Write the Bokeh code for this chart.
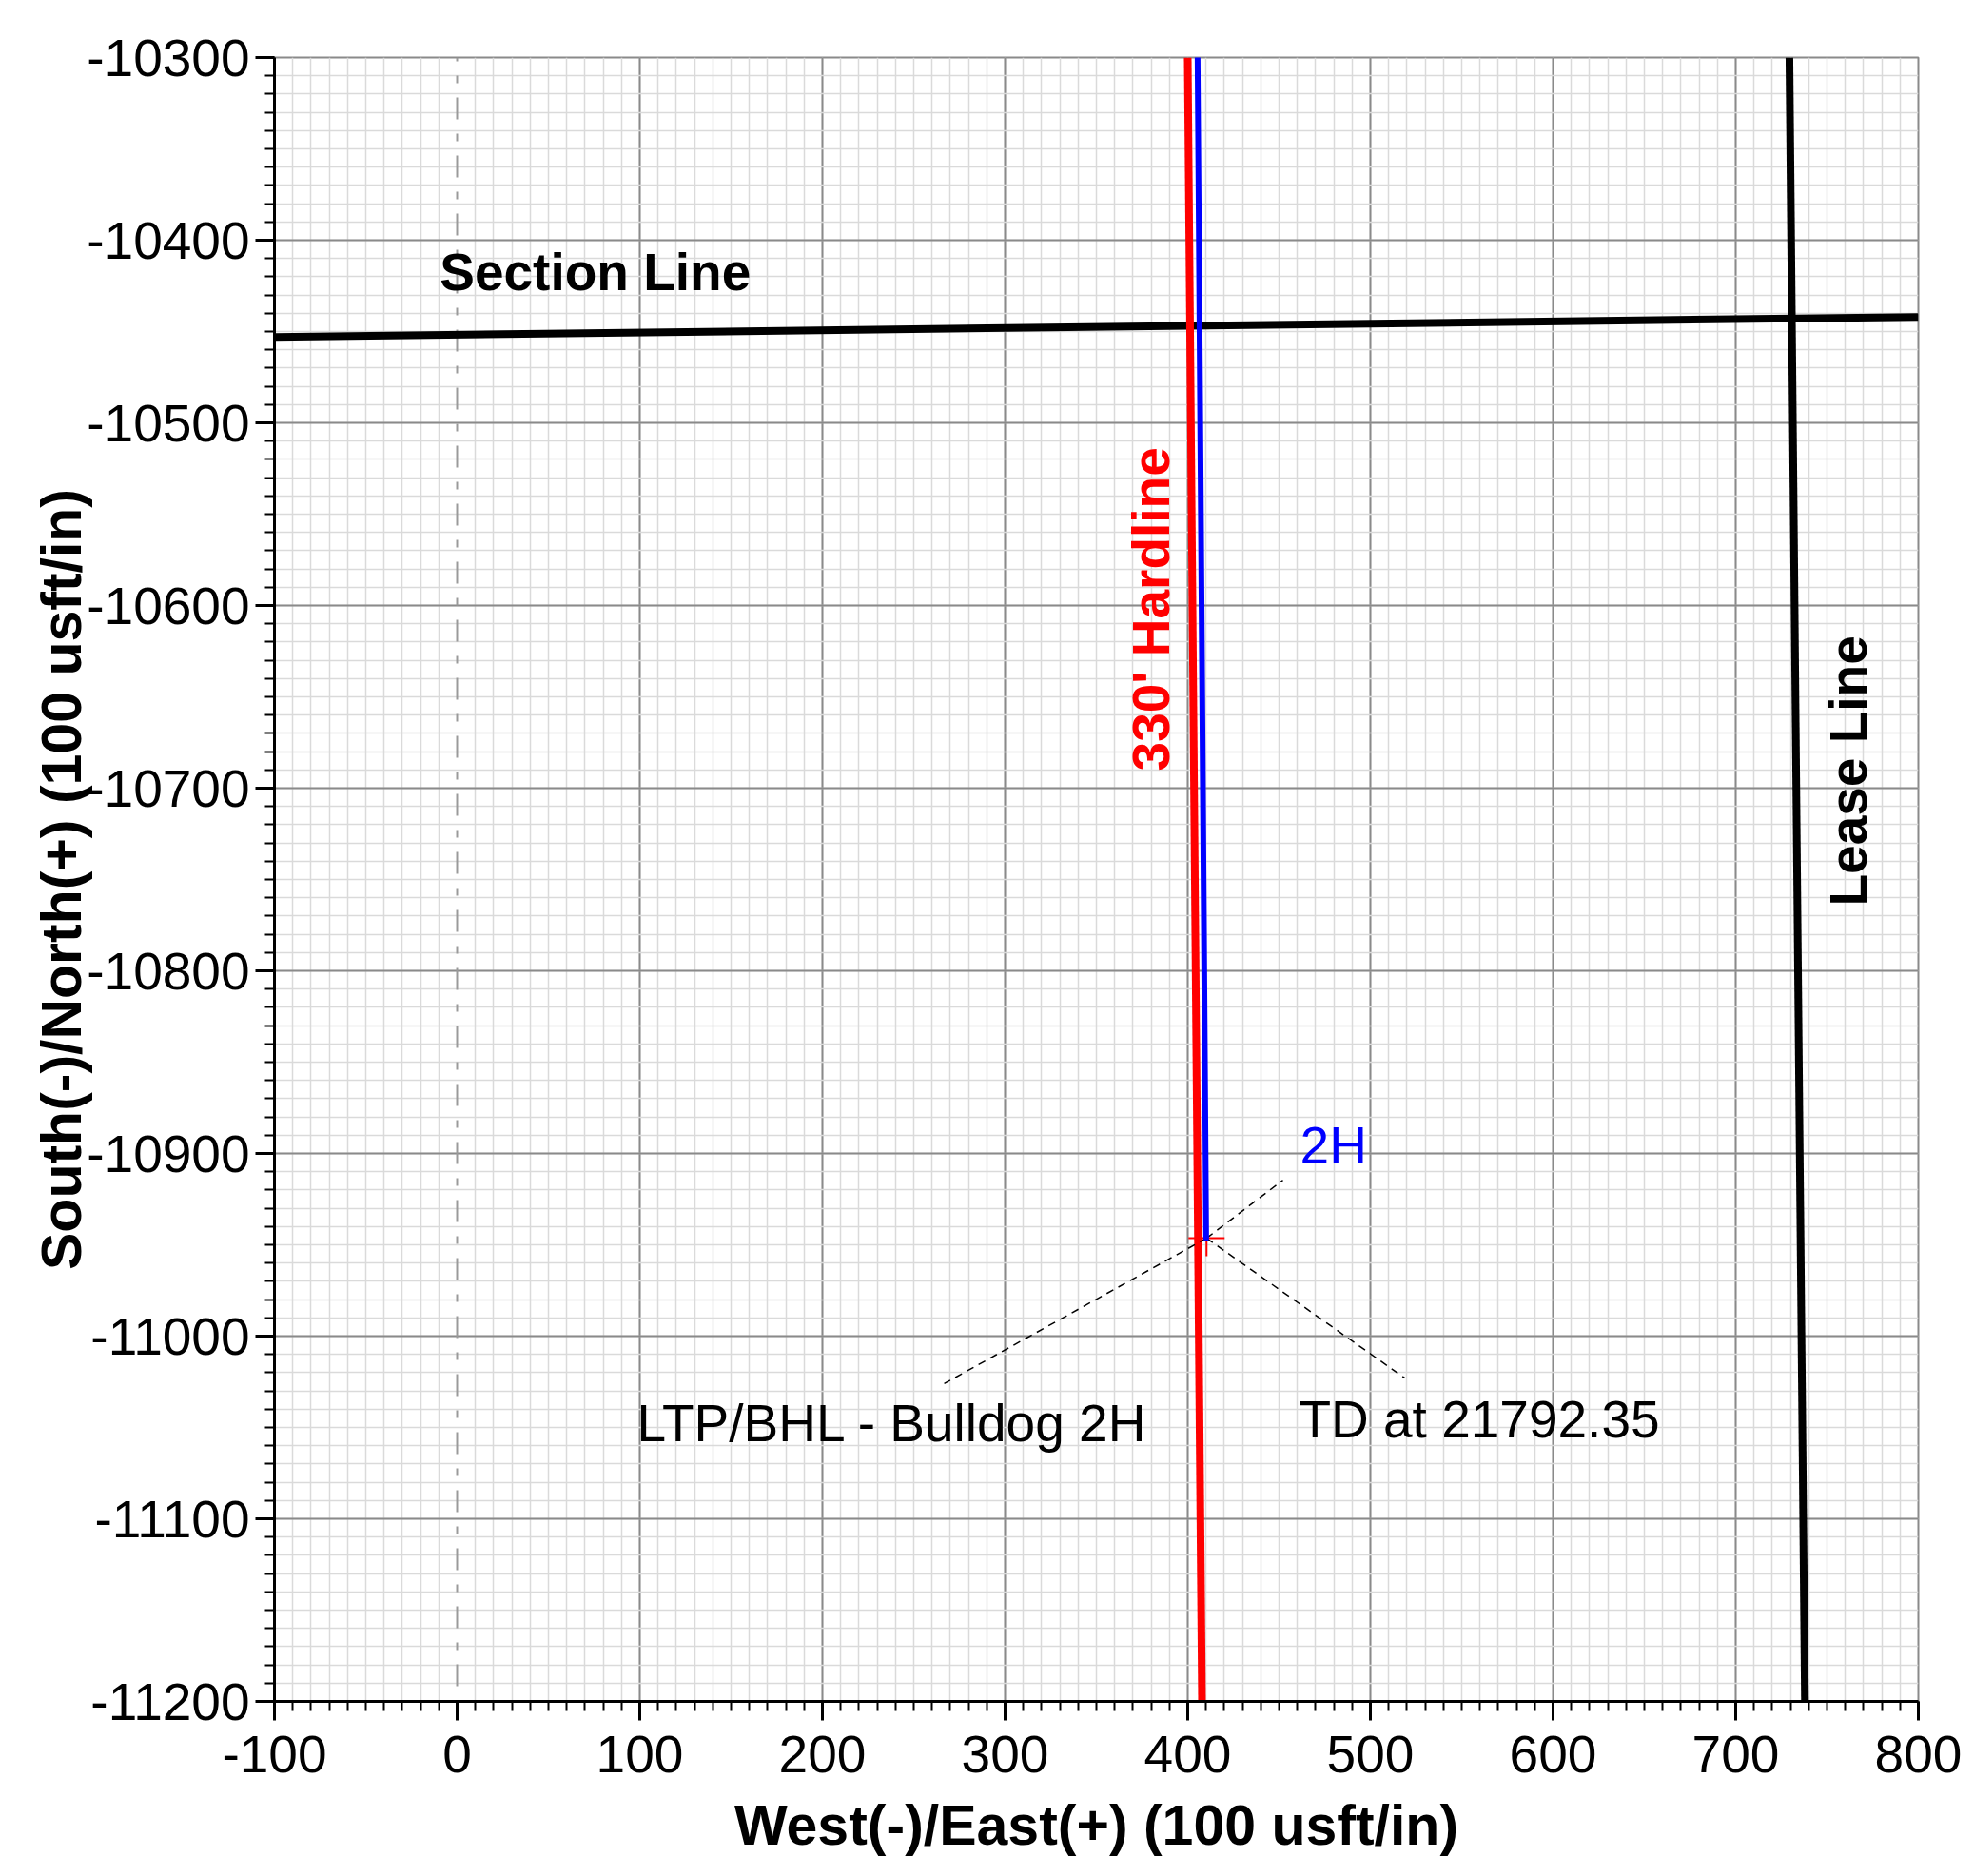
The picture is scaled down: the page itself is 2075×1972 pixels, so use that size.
import numpy as np
from bokeh.plotting import figure
from bokeh.models import Range1d, FixedTicker
from bokeh.core.properties import value
from bokeh.embed import file_html
from bokeh.resources import INLINE

FONT = "Liberation Sans"

# ---- tick values / labels ----
x_major = [-100, 0, 100, 200, 300, 400, 500, 600, 700, 800]
x_labels = ["-100", "0", "100", "200", "300", "400", "500", "600", "700", "800"]
y_major = [-11200, -11100, -11000, -10900, -10800, -10700, -10600, -10500, -10400, -10300]
y_labels = ["-11200", "-11100", "-11000", "-10900", "-10800", "-10700", "-10600",
            "-10500", "-10400", "-10300"]
x_minor = list(range(-100, 801, 10))
y_minor = list(range(-11200, -10299, 10))

# ---- data ----
section_x = [-100, 800]
section_y = [-10453.0, -10442.0]
lease_x = [729.4, 737.9]
lease_y = [-10300, -11200]
hard_x = [400.0, 407.8]
hard_y = [-10300, -11200]
well_x = [405.4, 410.1]
well_y = [-10300, -10946.5]
ref_x = [0, 0]
ref_y = [-10300, -11200]
end_x = [410.3]
end_y = [-10946.4]
lead_2h_x = [410.3, 452.1]
lead_2h_y = [-10946.4, -10914.6]
lead_ltp_x = [410.3, 266.7]
lead_ltp_y = [-10946.4, -11026.0]
lead_td_x = [410.3, 518.75]
lead_td_y = [-10946.4, -11022.9]

p = figure(width=2067, height=1964, output_backend="svg", toolbar_location=None,
           x_range=Range1d(-100, 800), y_range=Range1d(-11200, -10300),
           min_border_left=288, min_border_right=51, min_border_top=60,
           min_border_bottom=176)
p.background_fill_color = "white"
p.border_fill_color = "white"
p.outline_line_color = "#8a8a8a"
p.outline_line_width = 2

p.xaxis.ticker = FixedTicker(ticks=x_major, minor_ticks=x_minor)
p.yaxis.ticker = FixedTicker(ticks=y_major, minor_ticks=y_minor)
p.xaxis.major_label_overrides = dict(zip(x_major, x_labels))
p.yaxis.major_label_overrides = dict(zip(y_major, y_labels))

for ax in (p.xaxis, p.yaxis):
    ax.axis_line_color = "black"
    ax.axis_line_width = 3
    ax.major_tick_line_color = "black"
    ax.major_tick_line_width = 3
    ax.major_tick_out = 20
    ax.major_tick_in = 0
    ax.minor_tick_line_color = "black"
    ax.minor_tick_line_width = 2
    ax.minor_tick_out = 10
    ax.minor_tick_in = 0
    ax.major_label_text_font = FONT
    ax.major_label_text_font_size = "55px"
    ax.major_label_text_color = "black"
    ax.axis_label_text_font = FONT
    ax.axis_label_text_font_size = "59px"
    ax.axis_label_text_font_style = "bold"
    ax.axis_label_text_color = "black"

p.xaxis.axis_label = "West(-)/East(+) (100 usft/in)"
p.yaxis.axis_label = "South(-)/North(+) (100 usft/in)"
p.xaxis.major_label_standoff = 16
p.yaxis.major_label_standoff = 6
p.xaxis.axis_label_standoff = 20
p.yaxis.axis_label_standoff = -10

# grid (no grid line under the x=0 reference line)
p.xgrid.ticker = FixedTicker(ticks=[t for t in x_major if t != 0],
                             minor_ticks=[t for t in x_minor if t != 0])
p.ygrid.ticker = FixedTicker(ticks=y_major, minor_ticks=y_minor)
for g in (p.xgrid, p.ygrid):
    g.grid_line_color = "#8a8a8a"
    g.grid_line_width = 2
    g.minor_grid_line_color = "#dadada"
    g.minor_grid_line_width = 1.5

# reference dash-dot line at x=0
p.line(ref_x, ref_y, line_color="#9a9a9a", line_width=2,
       line_dash="23 15 8 15", line_dash_offset=19)

# section & lease lines
p.line(section_x, section_y, line_color="black", line_width=8)
p.line(lease_x, lease_y, line_color="black", line_width=8)

# hardline
p.line(hard_x, hard_y, line_color="#ff0000", line_width=8)

# leader lines
for lx, ly in ((lead_2h_x, lead_2h_y), (lead_ltp_x, lead_ltp_y), (lead_td_x, lead_td_y)):
    p.line(lx, ly, line_color="black", line_width=1.5, line_dash="8 6")

# end marker
p.scatter(end_x, end_y, marker="cross", size=38, line_color="#ff0000", line_width=2)

# well path
p.line(well_x, well_y, line_color="#0000ff", line_width=6, line_cap="round")

# annotations
p.text(x=[461.5], y=[-10895.4], text=["2H"], text_font=value(FONT),
       text_font_size="55px", text_color="#0000ff", text_align="left",
       text_baseline="alphabetic")
p.text(x=[98.4, 460.9], y=[-11047.4, -11045.4],
       text=["LTP/BHL - Bulldog 2H", "TD at 21792.35"], text_font=value(FONT),
       text_font_size="55px", text_color="black", text_align="left",
       text_baseline="alphabetic")
p.text(x=[-9.5], y=[-10417.6], text=["Section Line"], text_font=value(FONT),
       text_font_size="55px", text_font_style="bold", text_color="black",
       text_align="left", text_baseline="alphabetic")
p.text(x=[380.1], y=[-10690.6], text=["330' Hardline"], text_font=value(FONT),
       text_font_size="55px", text_font_style="bold", text_color="#ff0000",
       text_align="left", text_baseline="alphabetic", angle=np.pi / 2)
p.text(x=[761.5], y=[-10764.6], text=["Lease Line"], text_font=value(FONT),
       text_font_size="55px", text_font_style="bold", text_color="black",
       text_align="left", text_baseline="alphabetic", angle=np.pi / 2)

open("out.html", "w").write(file_html(p, INLINE))
